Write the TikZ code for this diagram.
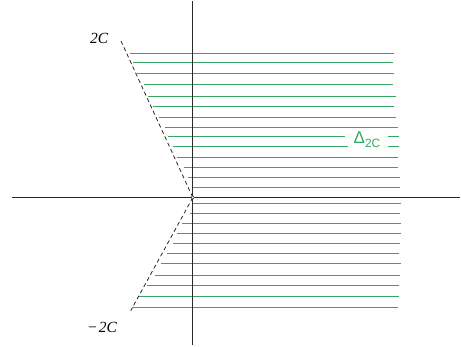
\documentclass[tikz,border=0pt]{standalone}
\usepackage{fontspec}
\setmainfont{Liberation Serif}
\newfontfamily\lsans{Liberation Sans}
\definecolor{hatch}{RGB}{55,165,100}
\definecolor{axiscol}{RGB}{40,40,40}
\begin{document}
\begin{tikzpicture}[x=1pt,y=-1pt,
  axisline/.style={draw=axiscol,line width=0.9pt},
  hatchline/.style={draw=hatch,line width=1.3pt},
  bound/.style={draw=black!85,line width=0.8pt,dash pattern=on 4pt off 3pt},
  lbl/.style={inner sep=0pt,anchor=base west,font=\fontsize{15.5}{16}\selectfont\itshape}]
\useasboundingbox (0,0) rectangle (461,347);
% hatch lines (upper half)
\foreach \y/\xl/\xr in {53.5/130/394,62.5/133.3/393,73.5/136.7/394,84.5/144.3/393,96.5/148/396,
  106.5/153.3/394,117.5/158.7/396,127.5/164.7/398,157.5/177.3/398,167.5/183.7/398,177.5/187.7/400,187.5/192.7/400}
  \draw[hatchline] (\xl,\y) -- (\xr,\y);
% the two lines broken by the label
\draw[hatchline] (168.3,136.5) -- (345,136.5) (388.3,136.5) -- (399,136.5);
\draw[hatchline] (173.3,146.5) -- (347.5,146.5) (387.5,146.5) -- (399,146.5);
% hatch lines (lower half)
\foreach \y/\xl/\xr in {203.5/193.3/401,213.5/190/400,223.5/182.3/401,233.5/176.7/401,243.5/173/400,
  253.5/167.3/399,263.5/161/401,275.5/155/400,285.5/147.3/399,296.5/139.3/399,307.5/132.3/398}
  \draw[hatchline] (\xl,\y) -- (\xr,\y);
% axes
\coordinate (xl) at (12,197.5);
\coordinate (xr) at (459.5,197.5);
\coordinate (yt) at (192.5,1.5);
\coordinate (yb) at (192.5,345);
\draw[axisline] (xl) -- (xr);
\draw[axisline] (yt) -- (yb);
% boundary rays
\coordinate (O) at (192.8,197.5);
\coordinate (up) at (121,41);
\coordinate (dn) at (130.7,310.7);
\draw[bound] (up) -- (O);
\draw[bound] (O) -- (dn);
\node[draw=axiscol,circle,minimum size=3.5pt,inner sep=0pt,line width=0.5pt,fill=white] (orig) at (O) {};
% labels
\node[lbl] (ltop) at (90,44) {2C};
\node[lbl] (lbot) at (88,333) {{\upshape −}\kern2pt2C};
\node[inner sep=0pt,anchor=base west,text=hatch] (delta) at (353.5,143.5)
  {{\lsans\fontsize{17}{17}\selectfont Δ}\raisebox{-3.6pt}{\lsans\fontsize{12}{12}\selectfont 2C}};
\end{tikzpicture}
\end{document}
